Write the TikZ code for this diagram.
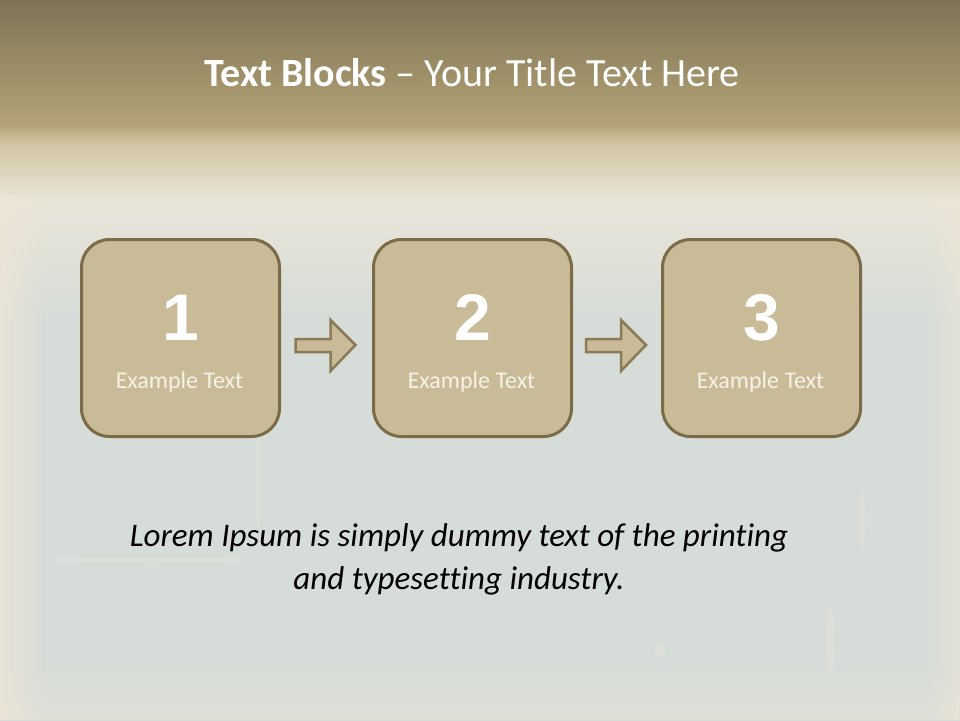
\documentclass[tikz,border=0pt]{standalone}
\usepackage{fontspec}
\setmainfont{Carlito}[Ligatures={NoCommon}]
\newfontfamily\numfont{Liberation Sans}
\usetikzlibrary{calc,fadings}
\definecolor{bandtop}{HTML}{7E7353}
\definecolor{bandbot}{HTML}{B4A377}
\definecolor{fadeA}{HTML}{D3C7A5}
\definecolor{fadeB}{HTML}{E9E5D8}
\definecolor{paper}{HTML}{D6DCD8}
\definecolor{edge}{HTML}{EEE6D7}
\definecolor{boxfill}{HTML}{C9BB98}
\definecolor{boxline}{HTML}{7B6B46}
\definecolor{arrline}{HTML}{8B7B57}
\definecolor{ltext}{HTML}{F6F2E8}
% 100bp shading; the path spans 25bp (y=720) .. 75bp (y=124)
\pgfdeclareverticalshading{bgshade}{100bp}{%
  color(0bp)=(paper); color(25bp)=(paper); color(58.6bp)=(paper); color(68.6bp)=(fadeB);
  color(73.2bp)=(fadeA); color(75bp)=(bandbot); color(100bp)=(bandbot)}
\begin{tikzfadingfrompicture}[name=toright]
\shade[left color=transparent!0, right color=transparent!100] (0,0) rectangle (2,2);
\end{tikzfadingfrompicture}
\begin{tikzfadingfrompicture}[name=toleft]
\shade[left color=transparent!100, right color=transparent!0] (0,0) rectangle (2,2);
\end{tikzfadingfrompicture}
\begin{tikzfadingfrompicture}[name=toup]
\shade[top color=transparent!100, bottom color=transparent!0] (0,0) rectangle (2,2);
\end{tikzfadingfrompicture}
\tikzset{
  x=1pt, y=-1pt,
  stepbox/.style={draw=boxline, line width=3pt, fill=boxfill, rounded corners=28pt,
    minimum width=198pt, minimum height=197pt, inner sep=0pt},
  numtxt/.style={text=white, font=\numfont\bfseries\fontsize{66}{66}\selectfont, anchor=base, inner sep=0pt},
  lbltxt/.style={text=ltext, font=\fontsize{24}{28}\selectfont, anchor=base, inner sep=0pt},
  lorem/.style={text=black, font=\itshape\fontsize{33}{38}\selectfont, anchor=base, inner sep=0pt},
  blockarrow/.style={draw=arrline, line width=2.5pt, fill=boxfill, line join=miter},
  blot/.style={fill=edge, opacity=0.25},
}
\begin{document}
\begin{tikzpicture}
\useasboundingbox (0,0) rectangle (960,720);
% background
\shade[shading=bgshade] (0,124) rectangle (960,720);
\fill[edge, opacity=0.8, path fading=toright, fit fading=true] (0,195) rectangle (45,720);
\fill[edge, opacity=0.6, path fading=toleft, fit fading=true] (928,195) rectangle (960,720);
\fill[edge, opacity=0.4, path fading=toup, fit fading=true] (0,665) rectangle (960,720);
% subtle wear marks
\fill[blot] (150,560) ellipse (100 and 2.5);
\fill[blot] (258,480) ellipse (2.5 and 50);
\fill[blot] (862,520) ellipse (3 and 28);
\fill[blot] (830,640) ellipse (4 and 35);
\fill[blot] (660,650) ellipse (5 and 7);
\shade[top color=bandtop, bottom color=bandbot] (0,0) rectangle (960,125);
% title
\node[text=white, font=\fontsize{40}{44}\selectfont, anchor=base, inner sep=0pt] (title) at (472,86)
  {\textbf{Text Blocks} – Your Title Text Here};
% boxes
\node[stepbox] (b1) at (180.5,338) {};
\node[stepbox] (b2) at (472.5,338) {};
\node[stepbox] (b3) at (761.5,338) {};
\foreach \b/\n in {b1/1,b2/2,b3/3}{
  \node[numtxt] (\b num) at ($(\b.center)+(0,2)$) {\n};
  \node[lbltxt] (\b lbl) at ($(\b.center)+(-1,50.5)$) {Example Text};
}
% arrows
\coordinate (m1) at ($(b1.east)!0.5!(b2.west)$);
\coordinate (m2) at ($(b2.east)!0.5!(b3.west)$);
\foreach \m in {m1,m2}{
  \draw[blockarrow] ($(\m)+(-31,1)$) -- ($(\m)+(4,1)$) -- ($(\m)+(4,-18)$) -- ($(\m)+(29,7)$)
    -- ($(\m)+(4,33)$) -- ($(\m)+(4,14)$) -- ($(\m)+(-31,14)$) -- cycle;
}
% lorem
\node[lorem] (lorem1) at (459,546) {Lorem Ipsum is simply dummy text of the printing};
\node[lorem] (lorem2) at (459,589) {and typesetting industry.};
\end{tikzpicture}
\end{document}
